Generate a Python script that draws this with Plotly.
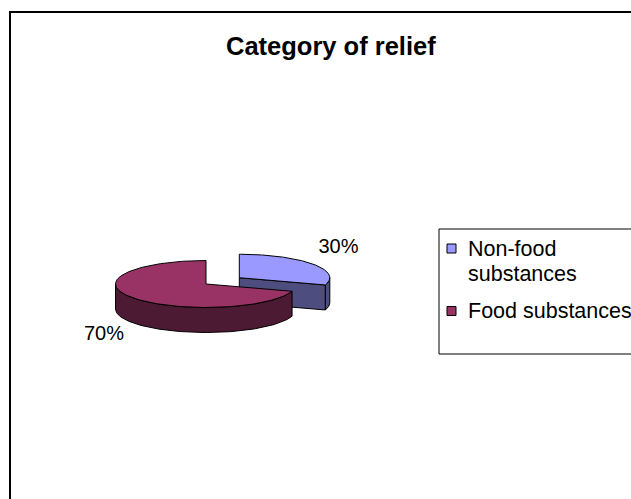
import numpy as np
import plotly.graph_objects as go

# ---- data ----
CATEGORIES = ["Non-food substances", "Food substances"]
SHARES = [30, 70]
PCT_LABELS = ["30%", "70%"]
LEGEND_LINES = [["Non-food", "substances"], ["Food substances"]]
TITLE = "Category of relief"

# ---- style / geometry (pixel space) ----
W, H = 631, 499
CX, CY = 206.0, 284.0      # pie centre
RX, RY = 90.5, 23.5        # ellipse radii
DEPTH = 25.0               # thickness of the 3-D pie
EXPLODE = [0.455, 0.0]     # explode fraction per slice
TOP_COL = ["#9999FF", "#993366"]
SIDE_COL = ["#4D4D80", "#4D1A33"]
LABEL_POS = [(338.5, 247.5), (104.0, 335.0)]
FONT = "Liberation Sans, Arial, sans-serif"

fig = go.Figure()

total = float(sum(SHARES))
fr = np.cumsum([0] + [s / total for s in SHARES])
starts = fr[:-1] * 360.0
ends = fr[1:] * 360.0


def rim(cx, cy, th_deg, dz=0.0):
    t = np.radians(th_deg)
    return cx + RX * np.sin(t), cy - RY * np.cos(t) + dz


def poly(xs, ys, color):
    fig.add_trace(go.Scatter(
        x=list(xs) + [xs[0]], y=list(ys) + [ys[0]], mode="lines",
        fill="toself", fillcolor=color,
        line=dict(color="black", width=1), hoverinfo="skip", showlegend=False))


# slice centres (exploded)
centres = []
for i in range(len(SHARES)):
    mid = np.radians((starts[i] + ends[i]) / 2)
    centres.append((CX + EXPLODE[i] * RX * np.sin(mid),
                    CY - EXPLODE[i] * RY * np.cos(mid)))

# draw back slice (non-food) first, then food in front
for i in [0, 1]:
    a0, a1 = starts[i], ends[i]
    cx, cy = centres[i]
    # cut face at end edge (visible when sin(a1) > 0)
    if np.sin(np.radians(a1)) > 1e-6:
        px, py = rim(cx, cy, a1)
        poly([cx, px, px, cx], [cy, py, py + DEPTH, cy + DEPTH], SIDE_COL[i])
    # cut face at start edge (visible when sin(a0) < 0)
    if np.sin(np.radians(a0)) < -1e-6:
        px, py = rim(cx, cy, a0)
        poly([cx, px, px, cx], [cy, py, py + DEPTH, cy + DEPTH], SIDE_COL[i])
    # curved front wall
    lo, hi = max(a0, 90.0), min(a1, 270.0)
    if hi > lo:
        th = np.linspace(lo, hi, 80)
        tx, ty = rim(cx, cy, th)
        bx, by = rim(cx, cy, th[::-1], DEPTH)
        poly(np.concatenate([tx, bx]), np.concatenate([ty, by]), SIDE_COL[i])
    # top face
    th = np.linspace(a0, a1, 160)
    tx, ty = rim(cx, cy, th)
    poly(np.concatenate([[cx], tx]), np.concatenate([[cy], ty]), TOP_COL[i])

# percentage labels
fig.add_trace(go.Scatter(
    x=[p[0] for p in LABEL_POS], y=[p[1] for p in LABEL_POS], mode="text",
    text=PCT_LABELS, textposition="middle center",
    textfont=dict(family=FONT, size=20, color="black"),
    hoverinfo="skip", showlegend=False))

shapes = [
    dict(type="rect", xref="x", yref="y", x0=10, y0=12, x1=W + 50, y1=H + 50,
         line=dict(color="black", width=2), fillcolor="rgba(0,0,0,0)", layer="below"),
    dict(type="rect", xref="x", yref="y", x0=439, y0=229, x1=W + 20, y1=354,
         line=dict(color="black", width=1), fillcolor="rgba(0,0,0,0)"),
]
annotations = [
    dict(x=331, y=46, xref="x", yref="y", text="<b>" + TITLE + "</b>",
         showarrow=False, xanchor="center", yanchor="middle",
         font=dict(family=FONT, size=25.5, color="black")),
]
legend_y = [248.5, 311.0]
LINE_STEP = 25.0
for i in range(len(CATEGORIES)):
    yy = legend_y[i]
    shapes.append(dict(type="rect", xref="x", yref="y", x0=447, x1=456,
                       y0=yy - 4.5, y1=yy + 4.5, fillcolor=TOP_COL[i],
                       line=dict(color="black", width=1)))
    for k, line in enumerate(LEGEND_LINES[i]):
        annotations.append(dict(x=466, y=yy + k * LINE_STEP, xref="x", yref="y",
                                text=line, showarrow=False,
                                xanchor="left", yanchor="middle", align="left",
                                font=dict(family=FONT, size=21.5, color="black")))

fig.update_layout(
    width=W, height=H, margin=dict(l=0, r=0, t=0, b=0),
    paper_bgcolor="white", plot_bgcolor="white",
    xaxis=dict(range=[0, W], visible=False, fixedrange=True),
    yaxis=dict(range=[H, 0], visible=False, fixedrange=True),
    shapes=shapes, annotations=annotations, showlegend=False,
)

fig.write_html("out.html")
